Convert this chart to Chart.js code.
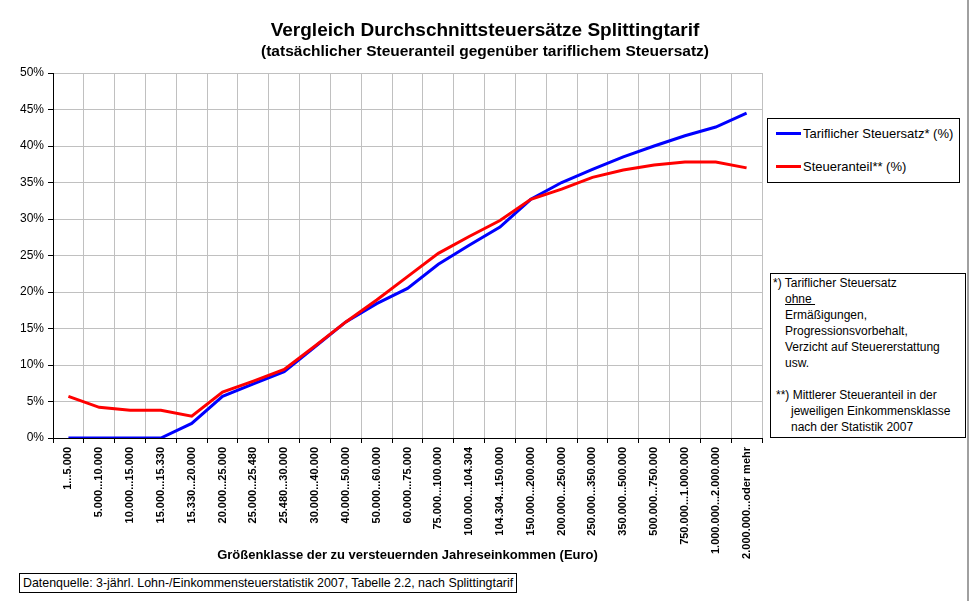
<!DOCTYPE html>
<html lang="de">
<head>
<meta charset="utf-8">
<title>Vergleich Durchschnittsteuersätze Splittingtarif</title>
<script src="https://cdn.jsdelivr.net/npm/chart.js@4.4.1/dist/chart.umd.min.js"></script>
<style>
  html, body { margin: 0; padding: 0; background: #fff; }
  body { font-family: Arial, "Liberation Sans", sans-serif; color: #000; }
  #wrap { position: relative; width: 970px; height: 601px; overflow: hidden; }
  #wrap canvas { position: absolute; left: 0; top: 0; }
  .frame-right { position: absolute; left: 967px; top: 0; width: 2px; height: 601px; background: #a0a0a0; }
  .box { position: absolute; border: 1px solid #000; background: #fff; font-size: 12px; box-sizing: border-box; }
  .legend { left: 767px; top: 118px; width: 193px; height: 65px; font-size: 13px; }
  .legend .item { position: absolute; left: 8px; height: 16px; line-height: 16px; white-space: nowrap; }
  .legend .swatch { display: inline-block; width: 25px; height: 3px; vertical-align: middle; margin-right: 2px; position: relative; top: -1px; }
  .notes { left: 770px; top: 273px; width: 196px; height: 165px; }
  .notes div { position: absolute; white-space: nowrap; line-height: 16px; }
  .source { left: 19px; top: 573px; width: 498px; height: 20px; line-height: 18px; padding-left: 3px; white-space: nowrap; font-size: 12.4px; }
</style>
</head>
<body>
<div id="wrap">
  <canvas id="chart" width="970" height="601"></canvas>
  <div class="frame-right"></div>
  <div class="box legend" id="legend"></div>
  <div class="box notes">
    <div style="left:2px;top:1px">*) Tariflicher Steuersatz</div>
    <div style="left:14px;top:17px"><u>ohne&nbsp;</u></div>
    <div style="left:14px;top:33px">Ermäßigungen,</div>
    <div style="left:14px;top:49px">Progressionsvorbehalt,</div>
    <div style="left:14px;top:65px">Verzicht auf Steuererstattung</div>
    <div style="left:14px;top:81px">usw.</div>
    <div style="left:5px;top:113px">**) Mittlerer Steueranteil in der</div>
    <div style="left:20px;top:129px">jeweiligen Einkommensklasse</div>
    <div style="left:20px;top:145px">nach der Statistik 2007</div>
  </div>
  <div class="box source">Datenquelle: 3-jährl. Lohn-/Einkommensteuerstatistik 2007, Tabelle 2.2, nach Splittingtarif</div>
</div>

<script>
/* ---------- Daten ---------- */
const categories = [
  "1...5.000", "5.000...10.000", "10.000...15.000", "15.000...15.330",
  "15.330...20.000", "20.000...25.000", "25.000...25.480", "25.480...30.000",
  "30.000...40.000", "40.000...50.000", "50.000...60.000", "60.000...75.000",
  "75.000...100.000", "100.000...104.304", "104.304...150.000", "150.000...200.000",
  "200.000...250.000", "250.000...350.000", "350.000...500.000", "500.000...750.000",
  "750.000...1.000.000", "1.000.000...2.000.000", "2.000.000...oder mehr"
];

// Tariflicher Steuersatz* (%)
const tariflich = [
  0, 0, 0, 0, 2.0, 5.7, 7.4, 9.1, 12.5, 15.9, 18.4, 20.5,
  23.8, 26.4, 28.9, 32.7, 35.0, 36.8, 38.5, 40.0, 41.4, 42.6, 44.5
];

// Steueranteil** (%)
const steueranteil = [
  5.7, 4.2, 3.8, 3.8, 3.0, 6.3, 7.8, 9.4, 12.6, 15.9, 18.9, 22.1,
  25.3, 27.6, 29.8, 32.7, 34.1, 35.7, 36.7, 37.4, 37.8, 37.8, 37.0
];

const yMin = 0, yMax = 50, yStep = 5;

const seriesNames = ["Tariflicher Steuersatz* (%)", "Steueranteil** (%)"];
const seriesColors = ["#0000ff", "#ff0000"];

const FONT = 'Arial, "Liberation Sans", sans-serif';

/* ---------- Legende (HTML) ---------- */
document.getElementById("legend").innerHTML = seriesNames.map((n, i) =>
  `<div class="item" style="top:${i === 0 ? 7 : 40}px"><span class="swatch" style="background:${seriesColors[i]}"></span>${n}</div>`
).join("");

/* ---------- Chart ---------- */
new Chart(document.getElementById("chart"), {
  type: "line",
  data: {
    labels: categories,
    datasets: [
      { label: seriesNames[0], data: tariflich, borderColor: seriesColors[0], backgroundColor: seriesColors[0],
        borderWidth: 3, pointRadius: 0, tension: 0, order: 1, yAxisID: "y" },
      { label: seriesNames[1], data: steueranteil, borderColor: seriesColors[1], backgroundColor: seriesColors[1],
        borderWidth: 3, pointRadius: 0, tension: 0, order: 0, yAxisID: "y" }
    ]
  },
  options: {
    responsive: false,
    animation: false,
    devicePixelRatio: 1,
    layout: { padding: { left: 0, right: 0, top: 0, bottom: 36 } },
    plugins: {
      legend: { display: false },
      tooltip: { enabled: false },
      title: {
        display: true,
        text: "Vergleich Durchschnittsteuersätze Splittingtarif",
        color: "#000",
        font: { family: FONT, size: 19, weight: "bold" },
        padding: { top: 19.6, bottom: 0 }
      },
      subtitle: {
        display: true,
        text: "(tatsächlicher Steueranteil gegenüber tariflichem Steuersatz)",
        color: "#000",
        font: { family: FONT, size: 15.5, weight: "bold" },
        padding: { top: 0.3, bottom: 11.7 }
      }
    },
    scales: {
      x: {
        offset: true,
        grid: { offset: true, color: "#c0c0c0", tickColor: "#000", tickLength: 5, lineWidth: 1 },
        border: { color: "#000", width: 1 },
        ticks: {
          autoSkip: false, minRotation: 90, maxRotation: 90, padding: 4,
          color: "#000", font: { family: FONT, size: 11, weight: "bold" }
        },
        title: {
          display: true,
          text: "Größenklasse der zu versteuernden Jahreseinkommen (Euro)",
          color: "#000",
          font: { family: FONT, size: 13, weight: "bold" },
          padding: { top: 0, bottom: 2 }
        },
        afterFit: s => { s.height = 127; }
      },
      y: {
        min: yMin, max: yMax,
        grid: { color: "#c0c0c0", tickColor: "#000", tickLength: 5, lineWidth: 1 },
        border: { color: "#000", width: 1 },
        ticks: {
          stepSize: yStep, padding: 4, color: "#000",
          font: { family: FONT, size: 12 },
          callback: v => v + "%"
        },
        afterFit: s => { s.width = 53; }
      },
      // Platzhalter rechts für Legende und Anmerkungen
      yR: {
        position: "right",
        grid: { display: false },
        border: { display: false },
        ticks: { display: false },
        afterFit: s => { s.width = 208; }
      }
    }
  }
});
</script>
</body>
</html>
